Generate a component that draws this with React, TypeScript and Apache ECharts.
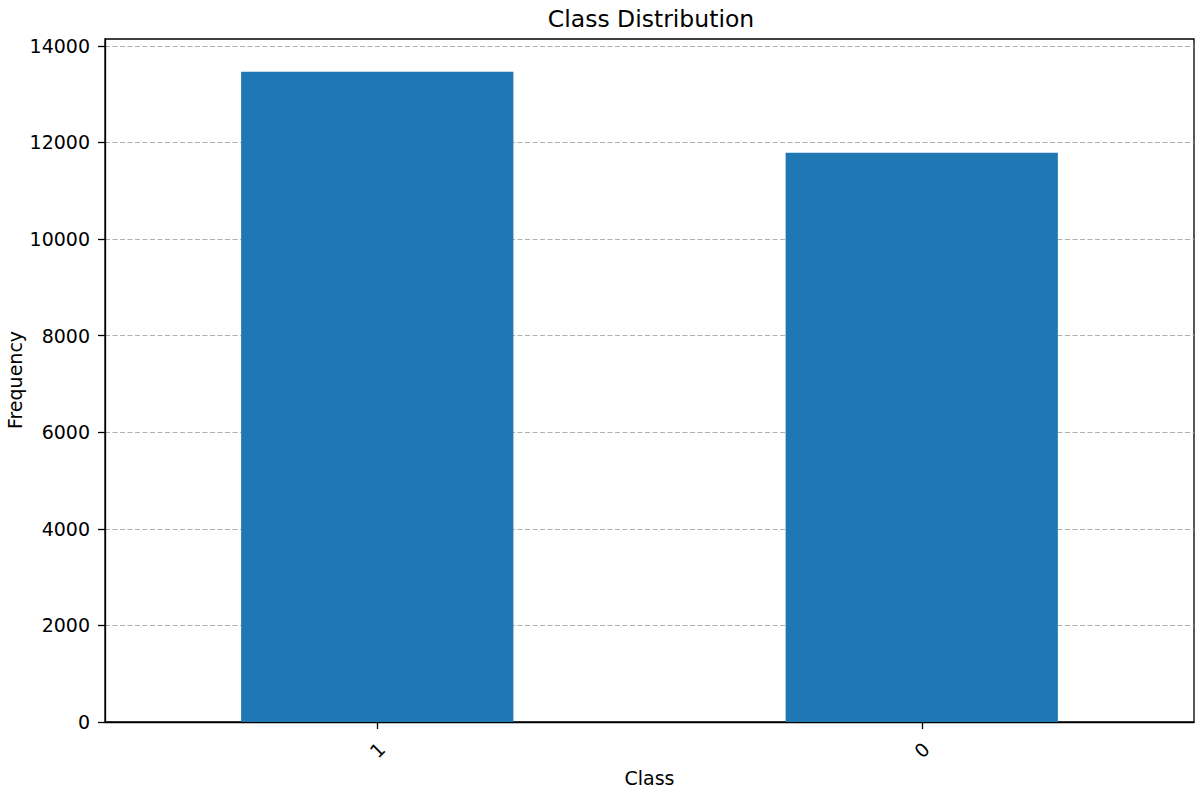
import React, { useEffect, useRef } from "react";
import * as echarts from "echarts";

const categories = ["1", "0"];
const frequencies = [13460, 11785];
const yTicks = [0, 2000, 4000, 6000, 8000, 10000, 12000, 14000];
const yAxisTitle = "Frequency";

const FONT = "DejaVu Sans";

export default function App() {
  const ref = useRef<HTMLDivElement>(null);
  useEffect(() => {
    document.body.style.margin = "0";
    const chart = echarts.init(ref.current!, null, { renderer: "svg" });
    chart.setOption({
      animation: false,
      backgroundColor: "#ffffff",
      textStyle: { fontFamily: FONT },
      title: {
        text: "Class Distribution",
        left: 646,
        top: 2,
        textAlign: "center",
        textStyle: { fontFamily: FONT, fontSize: 23.5, fontWeight: "normal", color: "#000" },
      },
      grid: {
        left: 105,
        right: 6,
        top: 39,
        bottom: 69,
        containLabel: false,
        outerBoundsMode: "none",
        show: true,
        borderColor: "#000",
        borderWidth: 1.3,
        backgroundColor: "transparent",
      },
      graphic: [
        {
          type: "text",
          x: 15,
          y: 380,
          rotation: Math.PI / 2,
          style: {
            text: yAxisTitle,
            fontFamily: FONT,
            fontSize: 19,
            fill: "#000",
            align: "center",
            verticalAlign: "middle",
          },
        },
      ],
      xAxis: {
        type: "category",
        data: categories,
        boundaryGap: true,
        name: "Class",
        nameLocation: "middle",
        nameGap: 46,
        nameTextStyle: { fontFamily: FONT, fontSize: 19, color: "#000" },
        axisLine: { show: true, lineStyle: { color: "#000", width: 1.3 } },
        axisTick: { show: true, alignWithLabel: true, length: 7, lineStyle: { color: "#000", width: 1.3 } },
        axisLabel: {
          rotate: 45,
          align: "center",
          verticalAlign: "middle",
          margin: 28,
          fontFamily: FONT,
          fontSize: 19,
          color: "#000",
        },
        splitLine: { show: false },
      },
      yAxis: {
        type: "value",
        min: 0,
        max: 14140,
        interval: 2000,
        axisLine: { show: true, lineStyle: { color: "#000", width: 1.3 } },
        axisTick: { show: true, length: 7, lineStyle: { color: "#000", width: 1.3 } },
        axisLabel: {
          margin: 15,
          fontFamily: FONT,
          fontSize: 19,
          color: "#000",
          showMaxLabel: false,
          formatter: (v: number) => (yTicks.includes(v) ? String(v) : ""),
        },
        splitLine: {
          show: true,
          showMaxLine: false,
          lineStyle: { color: "#b0b0b0", type: [5, 2.5], width: 1 },
        },
      },
      series: [
        {
          type: "bar",
          data: frequencies,
          barWidth: "50%",
          itemStyle: { color: "#1f77b4" },
        },
      ],
    });
    return () => chart.dispose();
  }, []);
  return (
    <div
      ref={ref}
      style={{ position: "absolute", left: 0, top: 0, width: 1200, height: 791 }}
    />
  );
}
